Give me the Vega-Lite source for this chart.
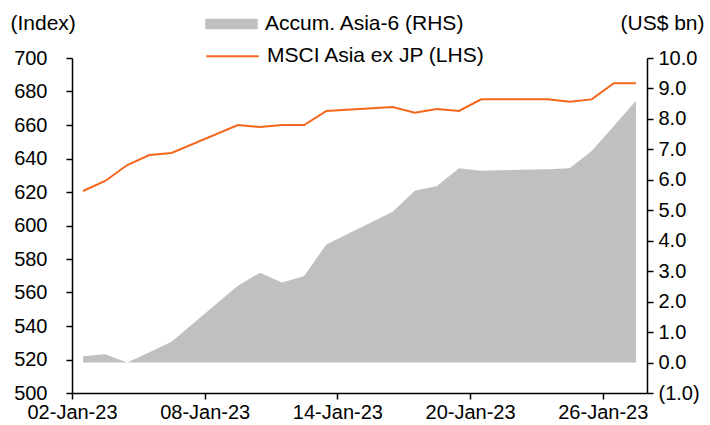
{
  "$schema": "https://vega.github.io/schema/vega-lite/v6.json",
  "autosize": {"type": "none"},
  "width": 575,
  "height": 335,
  "padding": {"left": 72, "top": 58, "right": 63, "bottom": 32},
  "background": "white",
  "config": {
    "view": {"stroke": null},
    "font": "Liberation Sans",
    "axis": {
      "labelFont": "Liberation Sans",
      "labelFontSize": 20,
      "labelColor": "black",
      "domainColor": "black",
      "domainWidth": 1.5,
      "tickColor": "black",
      "tickWidth": 1.5,
      "tickSize": 6,
      "grid": false,
      "titleFont": "Liberation Sans",
      "titleFontSize": 21,
      "titleFontWeight": "normal",
      "titleColor": "black"
    },
    "legend": {
      "labelFont": "Liberation Sans",
      "labelFontSize": 21,
      "labelColor": "black",
      "labelLimit": 400
    }
  },
  "data": {
    "values": [
      {"date": "2023-01-02", "msci": 620.6, "accum": 0.21},
      {"date": "2023-01-03", "msci": 626.6, "accum": 0.27},
      {"date": "2023-01-04", "msci": 636.1, "accum": 0.0},
      {"date": "2023-01-05", "msci": 642.1, "accum": 0.34},
      {"date": "2023-01-06", "msci": 643.3, "accum": 0.68},
      {"date": "2023-01-09", "msci": 660.0, "accum": 2.52},
      {"date": "2023-01-10", "msci": 658.8, "accum": 2.95},
      {"date": "2023-01-11", "msci": 660.0, "accum": 2.63},
      {"date": "2023-01-12", "msci": 660.0, "accum": 2.84},
      {"date": "2023-01-13", "msci": 668.4, "accum": 3.88},
      {"date": "2023-01-16", "msci": 670.7, "accum": 4.95},
      {"date": "2023-01-17", "msci": 667.3, "accum": 5.64},
      {"date": "2023-01-18", "msci": 669.5, "accum": 5.80},
      {"date": "2023-01-19", "msci": 668.4, "accum": 6.38},
      {"date": "2023-01-20", "msci": 675.3, "accum": 6.30},
      {"date": "2023-01-23", "msci": 675.3, "accum": 6.35},
      {"date": "2023-01-24", "msci": 673.9, "accum": 6.38},
      {"date": "2023-01-25", "msci": 675.3, "accum": 6.95},
      {"date": "2023-01-26", "msci": 684.9, "accum": 7.77},
      {"date": "2023-01-27", "msci": 684.9, "accum": 8.60}
    ]
  },
  "encoding": {
    "x": {
      "field": "date",
      "type": "temporal",
      "timeUnit": "utcyearmonthdate",
      "bandPosition": 0.5,
      "scale": {
        "type": "utc",
        "domain": [
          {"year": 2023, "month": 1, "date": 2, "utc": true},
          {"year": 2023, "month": 1, "date": 28, "utc": true}
        ],
        "nice": false
      },
      "axis": {
        "title": null,
        "format": "%d-%b-%y",
        "values": [
          {"year": 2023, "month": 1, "date": 2, "utc": true},
          {"year": 2023, "month": 1, "date": 8, "utc": true},
          {"year": 2023, "month": 1, "date": 14, "utc": true},
          {"year": 2023, "month": 1, "date": 20, "utc": true},
          {"year": 2023, "month": 1, "date": 26, "utc": true}
        ],
        "labelPadding": 3,
        "labelFlush": false,
        "labelOverlap": false
      }
    }
  },
  "layer": [
    {
      "mark": {"type": "area", "interpolate": "linear", "opacity": 1},
      "encoding": {
        "y": {
          "field": "accum",
          "type": "quantitative",
          "scale": {"domain": [-1, 10], "nice": false, "zero": false},
          "axis": {
            "orient": "right",
            "values": [-1, 0, 1, 2, 3, 4, 5, 6, 7, 8, 9, 10],
            "labelExpr": "datum.value < 0 ? '(' + format(-datum.value, '.1f') + ')' : format(datum.value, '.1f')",
            "labelPadding": 5,
            "title": "(US$ bn)",
            "titleAngle": 0,
            "titleAlign": "right",
            "titleBaseline": "middle",
            "titleX": 57,
            "titleY": -35
          }
        },
        "y2": {"datum": 0},
        "fill": {
          "datum": "Accum. Asia-6 (RHS)",
          "type": "nominal",
          "scale": {"range": ["#c0c0c0"]},
          "legend": {
            "title": null,
            "orient": "none",
            "legendX": 133,
            "legendY": -60.5,
            "padding": 0,
            "symbolType": "M-1,-0.204H1V0.204H-1Z",
            "symbolSize": 2750,
            "symbolStrokeWidth": 0,
            "symbolOpacity": 1,
            "labelOffset": 7
          }
        }
      }
    },
    {
      "mark": {"type": "line", "strokeWidth": 2, "interpolate": "linear"},
      "encoding": {
        "y": {
          "field": "msci",
          "type": "quantitative",
          "scale": {"domain": [500, 700], "nice": false, "zero": false},
          "axis": {
            "orient": "left",
            "values": [500, 520, 540, 560, 580, 600, 620, 640, 660, 680, 700],
            "format": "d",
            "labelPadding": 19,
            "title": "(Index)",
            "titleAngle": 0,
            "titleAlign": "left",
            "titleBaseline": "middle",
            "titleX": -62,
            "titleY": -35
          }
        },
        "stroke": {
          "datum": "MSCI Asia ex JP (LHS)",
          "type": "nominal",
          "scale": {"range": ["#f4661b"]},
          "legend": {
            "title": null,
            "orient": "none",
            "legendX": 133,
            "legendY": -29.2,
            "padding": 0,
            "symbolType": "M-1,0H1",
            "symbolSize": 2750,
            "symbolStrokeWidth": 2,
            "symbolOpacity": 1,
            "labelOffset": 7
          }
        }
      }
    }
  ],
  "resolve": {"scale": {"y": "independent"}}
}
